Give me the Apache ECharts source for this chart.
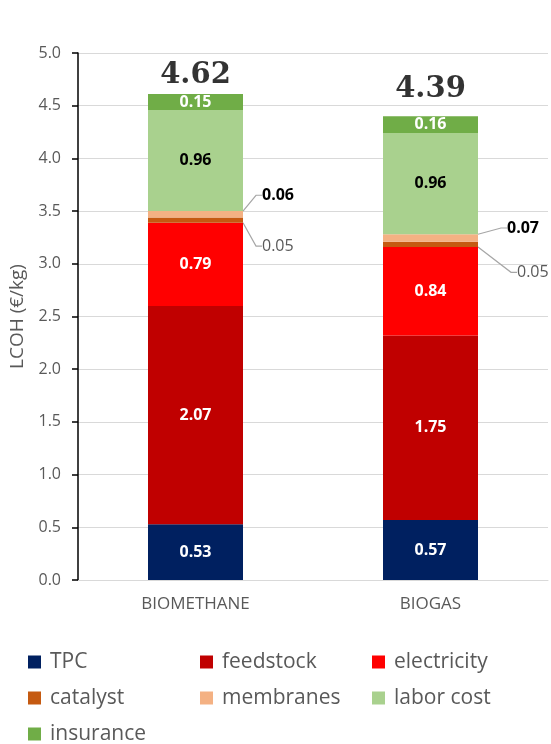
<!DOCTYPE html>
<html><head><meta charset="utf-8">
<script src="https://cdn.jsdelivr.net/npm/echarts@6/dist/echarts.min.js"></script>
<style>html,body{margin:0;padding:0;background:#fff}#c{width:551px;height:744px}</style>
</head><body><div id="c"></div>
<script>
const categories = ['BIOMETHANE', 'BIOGAS'];
const seriesNames = ['TPC', 'feedstock', 'electricity', 'catalyst', 'membranes', 'labor cost', 'insurance'];
const tpc = [0.53, 0.57];
const feedstock = [2.07, 1.75];
const electricity = [0.79, 0.84];
const catalyst = [0.05, 0.05];
const membranes = [0.06, 0.07];
const laborCost = [0.96, 0.96];
const insurance = [0.15, 0.16];
const totals = [4.62, 4.39];
const yTicks = { min: 0, max: 5, interval: 0.5 };

const colors = ['#002060', '#C00000', '#FF0000', '#C55A11', '#F4B183', '#A9D18E', '#70AD47'];
const values = [tpc, feedstock, electricity, catalyst, membranes, laborCost, insurance];
const font = '"Open Sans", "Liberation Sans", sans-serif';
const fmt = p => p.value.toFixed(2);

function insideLabel(color) {
  return { show: true, position: 'inside', color: color, fontWeight: 'bold', fontSize: 16, fontFamily: font, formatter: fmt };
}

const series = values.map((vals, i) => {
  const s = {
    name: seriesNames[i], type: 'bar', stack: 'total', barWidth: 95,
    itemStyle: { color: colors[i] },
    data: vals,
    emphasis: { disabled: true }
  };
  if (i === 3) {
    s.label = { show: true, position: 'right', color: '#595959', fontSize: 16, fontFamily: font, formatter: fmt };
    s.labelLayout = p => ({ x: p.rect.x + p.rect.width + 19 + (p.dataIndex === 1 ? 20 : 0), y: p.rect.y + p.rect.height / 2 + (p.dataIndex === 1 ? 28 : 26), align: 'left', verticalAlign: 'middle' });
    s.labelLine = { show: true, length2: 6, lineStyle: { color: '#A6A6A6', width: 1.2 } };
  } else if (i === 4) {
    s.label = { show: true, position: 'right', color: '#000', fontWeight: 'bold', fontSize: 16, fontFamily: font, formatter: fmt };
    s.labelLayout = p => ({ x: p.rect.x + p.rect.width + 19 + (p.dataIndex === 1 ? 10 : 0), y: p.rect.y + p.rect.height / 2 - (p.dataIndex === 1 ? 10 : 19), align: 'left', verticalAlign: 'middle' });
    s.labelLine = { show: true, length2: 6, lineStyle: { color: '#A6A6A6', width: 1.2 } };
  } else if (i === 5) {
    s.label = insideLabel('#000');
  } else {
    s.label = insideLabel('#fff');
  }
  return s;
});

const totalOffsets = [3, 13];
series.push({
  name: 'total', type: 'scatter', symbolSize: 0, silent: true,
  data: totals.map((v, i) => ({ value: v, label: { distance: totalOffsets[i] } })),
  label: { show: true, position: 'top', fontFamily: '"DejaVu Serif", serif', fontWeight: 'bold', fontSize: 29, color: '#000', formatter: p => p.value.toFixed(2) },
  z: 10
});

const legendText = { color: '#595959', fontSize: 21, fontFamily: font, lineHeight: 22, padding: [0, 0, 0, 4] };
const legendBase = { orient: 'vertical', top: 651, height: 140, padding: 0, itemWidth: 13, itemHeight: 13, itemGap: 14, icon: 'rect', textStyle: legendText, selectedMode: false };

const chart = echarts.init(document.getElementById('c'), null, { renderer: 'canvas' });
chart.setOption({
  animation: false,
  color: colors,
  grid: { left: 78, right: 3, top: 53, bottom: 164, containLabel: false, outerBoundsMode: 'none' },
  legend: [
    Object.assign({}, legendBase, { left: 28, data: ['TPC', 'catalyst', 'insurance'] }),
    Object.assign({}, legendBase, { left: 200, data: ['feedstock', 'membranes'] }),
    Object.assign({}, legendBase, { left: 372, data: ['electricity', 'labor cost'] })
  ],
  xAxis: {
    type: 'category', data: categories,
    axisLine: { lineStyle: { color: '#D9D9D9', width: 1 } },
    axisTick: { show: false },
    axisLabel: { color: '#595959', fontSize: 17, fontFamily: font, margin: 16 }
  },
  yAxis: {
    type: 'value', min: yTicks.min, max: yTicks.max, interval: yTicks.interval,
    name: 'LCOH (€/kg)', nameLocation: 'middle', nameGap: 51,
    nameTextStyle: { color: '#595959', fontSize: 19, fontFamily: font },
    axisLine: { show: true, lineStyle: { color: '#000', width: 1.5 } },
    axisTick: { show: true, length: 6, lineStyle: { color: '#000', width: 1.5 } },
    axisLabel: { color: '#595959', fontSize: 16, fontFamily: font, margin: 17, formatter: v => v.toFixed(1) },
    splitLine: { lineStyle: { color: '#D9D9D9', width: 1 } }
  },
  series: series
});
</script></body></html>
